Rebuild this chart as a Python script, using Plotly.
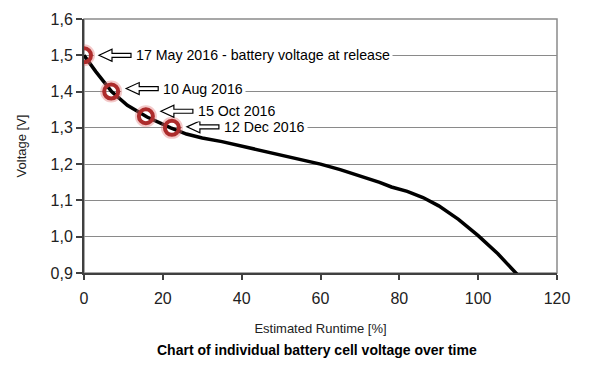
import plotly.graph_objects as go

# Discharge curve (estimated runtime %, cell voltage V)
runtime = [0, 3, 7, 11, 16, 22, 26, 30, 35, 40, 45, 50, 55, 60, 65, 70, 75, 78, 82, 86, 90, 95, 100, 105, 110]
voltage = [1.500, 1.455, 1.400, 1.362, 1.330, 1.300, 1.283, 1.272, 1.262, 1.250, 1.238, 1.226, 1.214, 1.200,
           1.185, 1.168, 1.150, 1.137, 1.125, 1.108, 1.085, 1.048, 1.003, 0.953, 0.895]

# Marked measurement dates
mark_runtime = [0, 6.9, 15.7, 22.3]
mark_voltage = [1.500, 1.400, 1.332, 1.300]
mark_labels = ["17 May 2016 - battery voltage at release", "10 Aug 2016", "15 Oct 2016", "12 Dec 2016"]
label_dy = [0, 3, 5, 1]  # label vertical offset (px) relative to marker

y_ticks = [0.9, 1.0, 1.1, 1.2, 1.3, 1.4, 1.5, 1.6]
x_ticks = [0, 20, 40, 60, 80, 100, 120]

FONT = "Liberation Sans, Arial, sans-serif"
RED = "#ad2c2c"

fig = go.Figure()

fig.add_trace(go.Scatter(x=runtime, y=voltage, mode="lines",
                         line=dict(color="black", width=3.5), hoverinfo="skip", showlegend=False))
# faint halo
fig.add_trace(go.Scatter(x=mark_runtime, y=mark_voltage, mode="markers",
                         marker=dict(symbol="circle-open", size=19, color="rgba(225,120,120,0.4)",
                                     line=dict(width=3, color="rgba(225,120,120,0.4)")),
                         hoverinfo="skip", showlegend=False))
fig.add_trace(go.Scatter(x=mark_runtime, y=mark_voltage, mode="markers",
                         marker=dict(symbol="circle-open", size=14, color=RED,
                                     line=dict(width=4, color=RED)),
                         hoverinfo="skip", showlegend=False))

shapes = []
annotations = []
for xv, yv, lab, dy in zip(mark_runtime, mark_voltage, mark_labels, label_dy):
    # white strip hiding gridline between marker and label
    shapes.append(dict(type="rect", xref="x", yref="y", xsizemode="pixel", ysizemode="pixel",
                       xanchor=xv, yanchor=yv, x0=10, x1=52, y0=dy - 5, y1=dy + 5,
                       fillcolor="white", line=dict(width=0), layer="between"))
    # hollow block arrow pointing to the marker
    path = (f"M15,{dy} L28,{dy + 6} L28,{dy + 2} L47,{dy + 2} L47,{dy - 2} "
            f"L28,{dy - 2} L28,{dy - 6} Z")
    shapes.append(dict(type="path", xref="x", yref="y", xsizemode="pixel", ysizemode="pixel",
                       xanchor=xv, yanchor=yv, path=path, fillcolor="white",
                       line=dict(color="black", width=1.2), layer="above"))
    annotations.append(dict(x=xv, y=yv, xref="x", yref="y", text=lab, showarrow=False,
                            xanchor="left", yanchor="middle", xshift=49, yshift=dy,
                            bgcolor="white", borderpad=2,
                            font=dict(family=FONT, size=14.2, color="black")))

# plot frame (top/right lighter border)
shapes.append(dict(type="rect", xref="paper", yref="paper", x0=0, x1=1, y0=0, y1=1,
                   line=dict(color="#8a8a8a", width=1.5), layer="below"))

# page has an 8px body margin, so the figure is 8px smaller and margins reduced accordingly
fig.update_layout(
    width=594, height=364,
    margin=dict(l=76, r=45, t=11, b=99),
    paper_bgcolor="white", plot_bgcolor="white",
    separators=", ",
    font=dict(family=FONT, color="#222222"),
    shapes=shapes, annotations=annotations,
    title=dict(text="<b>Chart of individual battery cell voltage over time</b>",
               x=0.52, xanchor="center", y=1 - 342 / 364, yanchor="middle",
               font=dict(family=FONT, size=14, color="black")),
    xaxis=dict(range=[0, 120], tickvals=x_ticks, showgrid=False, zeroline=False,
               showline=True, linecolor="#404040", linewidth=2, automargin=False,
               ticks="outside", ticklen=5, tickcolor="#404040", tickwidth=1.5,
               ticklabelstandoff=5,
               tickfont=dict(family=FONT, size=16, color="#222222"),
               title=dict(text="Estimated Runtime [%]", standoff=18,
                          font=dict(family=FONT, size=13, color="#222222"))),
    yaxis=dict(range=[0.9, 1.6], tickvals=y_ticks, tickformat=".1f",
               showgrid=True, gridcolor="#8a8a8a", gridwidth=1, zeroline=False,
               showline=True, linecolor="#404040", linewidth=2, automargin=False,
               ticks="outside", ticklen=6, tickcolor="#404040", tickwidth=1.5,
               tickfont=dict(family=FONT, size=16, color="#222222"),
               title=dict(text="Voltage [V]", standoff=21,
                          font=dict(family=FONT, size=13, color="#222222"))),
)

fig.write_html("out.html")
